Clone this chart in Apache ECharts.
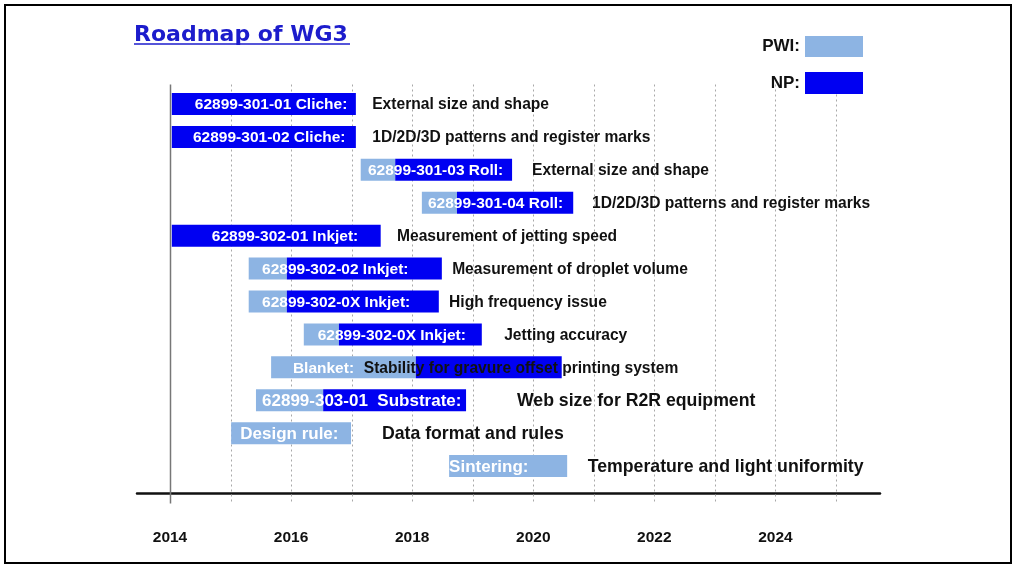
<!DOCTYPE html>
<html>
<head>
<meta charset="utf-8">
<script src="https://cdn.jsdelivr.net/npm/echarts@6/dist/echarts.min.js"></script>
<style>
html,body{margin:0;padding:0;background:#fff;}
#chart{width:1017px;height:570px;}
</style>
</head>
<body>
<div id="chart"></div>
<script>
// ---- data ----
const rowLabels = ['62899-301-01 Cliche:', '62899-301-02 Cliche:', '62899-301-03 Roll:', '62899-301-04 Roll:',
  '62899-302-01 Inkjet:', '62899-302-02 Inkjet:', '62899-302-0X Inkjet:', '62899-302-0X Inkjet:',
  'Blanket:', '62899-303-01  Substrate:', 'Design rule:', 'Sintering:'];
const notes = ['External size and shape', '1D/2D/3D patterns and register marks', 'External size and shape',
  '1D/2D/3D patterns and register marks', 'Measurement of jetting speed', 'Measurement of droplet volume',
  'High frequency issue', 'Jetting accuracy', 'Stability for gravure offset printing system',
  'Web size for R2R equipment', 'Data format and rules', 'Temperature and light uniformity'];
// PWI phase (years)
const pwiFrom = [null, null, 2017.15, 2018.16, null, 2015.30, 2015.30, 2016.21, 2015.67, 2015.42, 2015.01, 2018.61];
const pwiTo   = [null, null, 2017.72, 2018.74, null, 2015.93, 2015.93, 2016.79, 2018.06, 2016.53, 2016.99, 2020.56];
// NP phase (years)
const npFrom  = [2014.03, 2014.03, 2017.72, 2018.74, 2014.03, 2015.93, 2015.93, 2016.79, 2018.06, 2016.53, null, null];
const npTo    = [2017.07, 2017.07, 2019.65, 2020.66, 2017.48, 2018.49, 2018.44, 2019.15, 2020.47, 2018.89, null, null];
// where the texts are anchored (years)
const labelAt = [2014.41, 2014.38, 2017.27, 2018.26, 2014.69, 2015.52, 2015.52, 2016.44, 2016.03, 2015.52, 2015.16, 2018.61];
const noteAt  = [2017.34, 2017.34, 2019.98, 2020.97, 2017.75, 2018.66, 2018.61, 2019.52, 2017.20, 2019.73, 2017.50, 2020.90];
const gridYears = [2014, 2015, 2016, 2017, 2018, 2019, 2020, 2021, 2022, 2023, 2024, 2025];
const tickYears = [2014, 2016, 2018, 2020, 2022, 2024];
const tickLabels = ['2014', '2016', '2018', '2020', '2022', '2024'];

// ---- styles ----
const PWI_COLOR = '#8db4e3';
const NP_COLOR = '#0000f2';
const FONT = '"Liberation Sans", Arial, sans-serif';
const bigRows = new Set([9, 10, 11]);
const BAR_H = 22;

const rowIdx = rowLabels.map((_, i) => String(i));
const pwiData = [], npData = [], textData = [];
rowLabels.forEach((_, i) => {
  if (pwiFrom[i] != null) pwiData.push([pwiFrom[i], pwiTo[i], i]);
  if (npFrom[i] != null) npData.push([npFrom[i], npTo[i], i]);
  textData.push([labelAt[i], noteAt[i], i]);
});

function barItem(color) {
  return function (params, api) {
    const s = api.coord([api.value(0), api.value(2)]);
    const e = api.coord([api.value(1), api.value(2)]);
    return {
      type: 'rect',
      shape: { x: s[0], y: s[1] - BAR_H / 2, width: e[0] - s[0], height: BAR_H },
      style: { fill: color }
    };
  };
}

const chart = echarts.init(document.getElementById('chart'), null, { renderer: 'canvas' });
chart.setOption({
  animation: false,
  backgroundColor: '#fff',
  title: {
    text: 'Roadmap of WG3', left: 129, top: 19,
    textStyle: { color: '#1c1ccc', fontFamily: '"DejaVu Sans", Verdana, sans-serif', fontWeight: 'bold', fontSize: 22 }
  },
  legend: [
    { data: ['PWI:'], right: 149, top: 31, itemWidth: 58, itemHeight: 21, align: 'right', icon: 'rect', selectedMode: false,
      textStyle: { fontFamily: FONT, fontWeight: 'bold', fontSize: 17, color: '#111' } },
    { data: ['NP:'], right: 149, top: 67, itemWidth: 58, itemHeight: 22, align: 'right', icon: 'rect', selectedMode: false,
      textStyle: { fontFamily: FONT, fontWeight: 'bold', fontSize: 17, color: '#111' } }
  ],
  grid: { left: 137, right: 137, top: 87.5, bottom: 87.5 },
  xAxis: {
    type: 'value', min: 2013.455, max: 2025.727, offset: 10.5,
    axisLine: { show: true, lineStyle: { color: '#111', width: 2.5 } },
    axisTick: { show: false },
    splitLine: { show: false },
    axisLabel: {
      customValues: tickYears, margin: 37,
      formatter: v => tickLabels[tickYears.indexOf(v)] ?? String(v),
      fontFamily: FONT, fontWeight: 'bold', fontSize: 15.5, color: '#111'
    }
  },
  yAxis: { type: 'category', data: rowIdx, inverse: true, show: false },
  graphic: [
    { type: 'rect', shape: { x: 5, y: 5, width: 1006, height: 558 }, style: { fill: null, stroke: '#000', lineWidth: 2 }, z: 100 },
    { type: 'line', shape: { x1: 134, y1: 44, x2: 350, y2: 44 }, style: { stroke: '#1c1ccc', lineWidth: 1.5 } }
  ],
  series: [
    {
      type: 'custom', name: 'years', clip: false, silent: true, z: 1,
      data: gridYears.map(y => [y, 0]),
      encode: { x: 0, y: 1 },
      renderItem: function (params, api) {
        const x = Math.round(api.coord([api.value(0), 0])[0]) + 0.5;
        const cs = params.coordSys;
        const solid = api.value(0) === gridYears[0];
        return {
          type: 'line',
          shape: { x1: x, y1: cs.y - 3, x2: x, y2: cs.y + cs.height + 21 },
          style: solid ? { stroke: '#777', lineWidth: 1.5 } : { stroke: '#a8a8a8', lineWidth: 1, lineDash: [2, 3] }
        };
      }
    },
    { type: 'custom', name: 'PWI:', z: 2, clip: false, itemStyle: { color: PWI_COLOR }, data: pwiData,
      encode: { x: [0, 1], y: 2 }, renderItem: barItem(PWI_COLOR) },
    { type: 'custom', name: 'NP:', z: 3, clip: false, itemStyle: { color: NP_COLOR }, data: npData,
      encode: { x: [0, 1], y: 2 }, renderItem: barItem(NP_COLOR) },
    {
      type: 'custom', name: 'texts', z: 4, clip: false, silent: true, data: textData,
      encode: { x: [0, 1], y: 2 },
      renderItem: function (params, api) {
        const i = api.value(2);
        const a = api.coord([api.value(0), i]);
        const b = api.coord([api.value(1), i]);
        const big = bigRows.has(i);
        return {
          type: 'group',
          children: [
            { type: 'text', x: a[0], y: a[1] + 1,
              style: { text: rowLabels[i], fill: '#fff', font: 'bold ' + (big ? 17 : 15.5) + 'px ' + FONT, align: 'left', verticalAlign: 'middle' } },
            { type: 'text', x: b[0], y: b[1] + 1,
              style: { text: notes[i], fill: '#111', font: 'bold ' + (big ? 17.7 : 15.6) + 'px ' + FONT, align: 'left', verticalAlign: 'middle' } }
          ]
        };
      }
    }
  ]
});
</script>
</body>
</html>
